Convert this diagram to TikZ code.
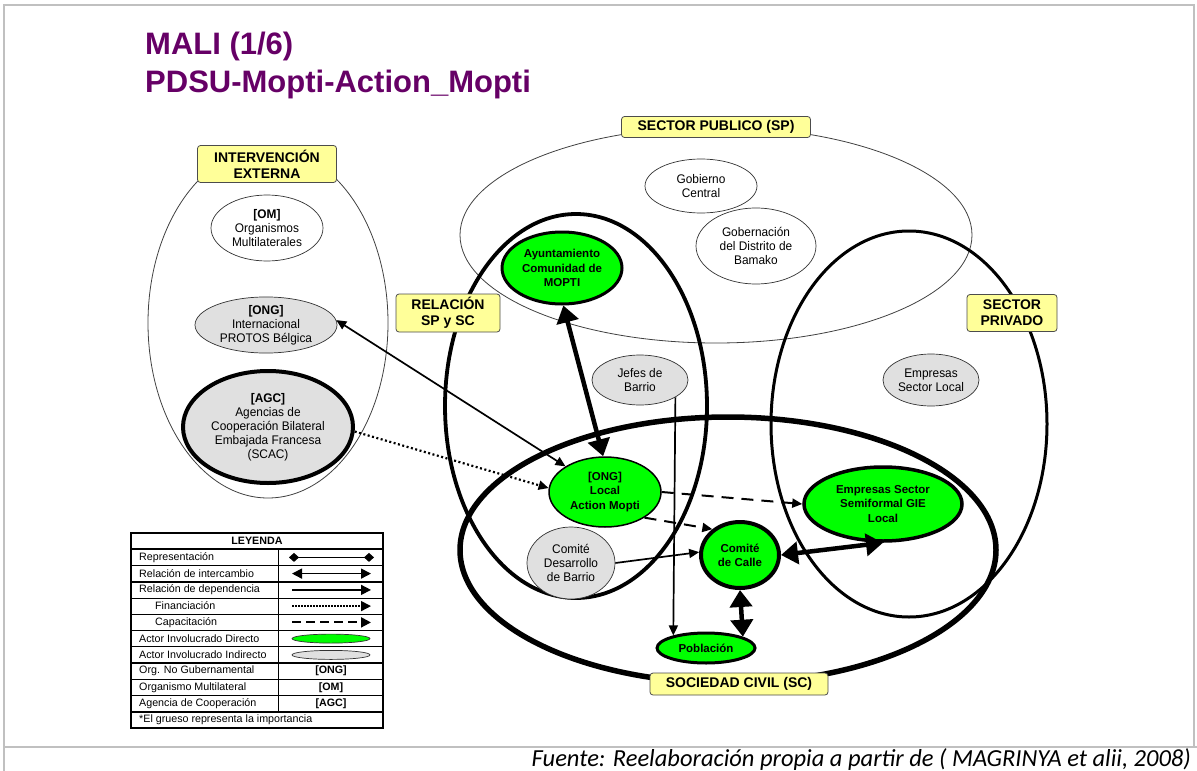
\documentclass[tikz,border=0pt]{standalone}
\usepackage{fontspec}
\setmainfont{Liberation Sans}
\newfontfamily\condfont[FakeStretch=0.95]{Liberation Sans}
\newfontfamily\carlito{Carlito}
\usetikzlibrary{shapes.geometric,arrows.meta}
\definecolor{gfill}{RGB}{0,255,0}
\definecolor{grfill}{RGB}{224,224,224}
\definecolor{yfill}{RGB}{255,255,153}
\definecolor{ttl}{RGB}{102,0,102}
\definecolor{framecol}{RGB}{192,192,192}
\begin{document}
\begin{tikzpicture}[x=1pt,y=-1pt,
  framelin/.style={draw=framecol,line width=1.6pt},
  cont/.style={ellipse,draw=black,inner sep=0pt},
  thincont/.style={cont,draw=black!75,line width=0.8pt},
  ell/.style={ellipse,inner sep=0pt,align=center,font=\condfont\fontsize{12.5}{14}\selectfont},
  whiteell/.style={ell,draw=black!80,line width=0.7pt,fill=white},
  greyell/.style={ell,draw=black!80,line width=0.7pt,fill=grfill},
  greenell/.style={ell,draw=black,fill=gfill,font=\bfseries\fontsize{11.5}{14.3}\selectfont},
  lab/.style={draw=black!70,fill=yfill,rounded corners=3pt,line width=0.8pt,inner sep=0pt,align=center,font=\bfseries\fontsize{14}{16}\selectfont},
  thinarr/.style={line width=1.7pt,-{Triangle[length=10pt,width=9pt]}},
  thinboth/.style={line width=1.7pt,{Triangle[length=10pt,width=9pt]}-{Triangle[length=10pt,width=9pt]}},
  dotarr/.style={line width=2.2pt,dash pattern=on 2pt off 2.5pt,-{Triangle[length=10pt,width=9pt]}},
  dasharr/.style={line width=2pt,dash pattern=on 12pt off 8pt,-{Triangle[length=10pt,width=9pt]}},
  thickboth/.style={line width=4.5pt,{Triangle[length=17pt,width=22pt]}-{Triangle[length=17pt,width=22pt]}},
  legtxt/.style={anchor=west,inner sep=0pt,font=\fontsize{10.7}{12}\selectfont},
  legsym/.style={inner sep=0pt,font=\bfseries\fontsize{10.7}{12}\selectfont},
]
\useasboundingbox (0,0) rectangle (1197,771);
% frame
\draw[framelin] (4,771) -- (4,5) -- (1194,5) -- (1194,747);
\draw[framelin] (4,747) -- (1197,747);
% title
\node[anchor=base west,inner sep=0pt,text=ttl,font=\bfseries\fontsize{31}{36}\selectfont] (t1) at (145,54) {MALI (1/6)};
\node[anchor=base west,inner sep=0pt,text=ttl,font=\bfseries\fontsize{31}{36}\selectfont] (t2) at (145,92) {PDSU-Mopti-Action\_Mopti};
% containers
\node[thincont,minimum width=240pt,minimum height=350pt] (ie) at (268,323) {};
\node[thincont,minimum width=512pt,minimum height=216pt] (sp) at (716,235) {};
\node[cont,line width=3.8pt,minimum width=262pt,minimum height=384pt] (rel) at (576,406) {};
\node[cont,line width=3pt,minimum width=276pt,minimum height=386pt] (spriv) at (909,424) {};
\node[cont,line width=5.5pt,minimum width=536pt,minimum height=266pt] (sc) at (728,550) {};
% actors
\node[whiteell,minimum width=112pt,minimum height=66pt] (om) at (267,228) {\textbf{[OM]}\\Organismos\\Multilaterales};
\node[greyell,minimum width=142pt,minimum height=56pt] (protos) at (266,325) {\textbf{[ONG]}\\Internacional\\PROTOS Bélgica};
\node[greyell,draw=black,line width=4pt,minimum width=170pt,minimum height=112pt] (agc) at (268,427) {\textbf{[AGC]}\\Agencias de\\Cooperación Bilateral\\Embajada Francesa\\(SCAC)};
\node[whiteell,minimum width=112pt,minimum height=54pt] (gob) at (701,186) {Gobierno\\Central};
\node[whiteell,minimum width=120pt,minimum height=76pt] (gobdist) at (756,246) {Gobernación\\del Distrito de\\Bamako};
\node[greenell,line width=3pt,minimum width=120pt,minimum height=72pt] (ayunt) at (562,268) {Ayuntamiento\\Comunidad de\\MOPTI};
\node[greyell,minimum width=96pt,minimum height=50pt] (jefes) at (640,380) {Jefes de\\Barrio};
\node[greyell,minimum width=96pt,minimum height=52pt] (emploc) at (931,380) {Empresas\\Sector Local};
\node[greenell,line width=1.5pt,minimum width=112pt,minimum height=70pt] (onglocal) at (605,492) {[ONG]\\Local\\Action Mopti};
\node[greyell,minimum width=88pt,minimum height=72pt] (cdb) at (571,563) {Comité\\Desarrollo\\de Barrio};
\node[greenell,line width=4pt,minimum width=78pt,minimum height=66pt] (calle) at (740,555) {Comité\\de Calle};
\node[greenell,line width=3.5pt,minimum width=158pt,minimum height=74pt] (semi) at (883,504) {Empresas Sector\\Semiformal GIE\\Local};
\node[greenell,line width=3pt,minimum width=98pt,minimum height=30pt] (pob) at (706,648) {Población};
% connectors
\draw[thinboth] (onglocal.147) -- (protos.4);
\draw[dotarr] (agc.-3) -- (onglocal.176);
\draw[thickboth] (ayunt.-88) -- (onglocal.93);
\draw[dasharr] (onglocal.east) -- (semi.west);
\draw[dasharr] (onglocal.-33) -- (calle.137);
\draw[thinarr] (cdb.east) -- (calle.176);
\draw[thinarr] (jefes.-26) -- (pob.159);
\draw[thickboth] (calle.east) -- (semi.south);
\draw[thickboth] (calle.south) -- (pob.17.6);
% labels
\node[lab,minimum width=139pt,minimum height=37pt] (lie) at (267,164) {INTERVENCIÓN\\EXTERNA};
\node[lab,minimum width=189pt,minimum height=21pt] (lsp) at (716,127) {SECTOR PUBLICO (SP)};
\node[lab,minimum width=104pt,minimum height=38pt] (lrel) at (448,313) {RELACIÓN\\SP y SC};
\node[lab,minimum width=90pt,minimum height=37pt] (lspriv) at (1012,313) {SECTOR\\PRIVADO};
\node[lab,minimum width=178pt,minimum height=22pt] (lsc) at (739,684) {SOCIEDAD CIVIL (SC)};
% legend table
\fill[white] (131,533) rectangle (383,728);
\foreach \i in {1,...,11}{\draw[line width=0.8pt] (131,533+16.25*\i) -- (383,533+16.25*\i);}
\foreach \i in {1,2,3,6,8,11}{\draw[line width=1.8pt] (131,533+16.25*\i) -- (383,533+16.25*\i);}
\draw[line width=0.8pt] (278,549.25) -- (278,711.75);
\draw[line width=1.8pt] (131,533) rectangle (383,728);
\node[legsym] (lg0) at (257,541.1) {LEYENDA};
\node[legtxt] (lg1) at (139,557.4) {Representación};
\node[legtxt] (lg2) at (139,573.6) {Relación de intercambio};
\node[legtxt] (lg3) at (139,589.9) {Relación de dependencia};
\node[legtxt] (lg4) at (155,606.1) {Financiación};
\node[legtxt] (lg5) at (155,622.4) {Capacitación};
\node[legtxt] (lg6) at (139,638.6) {Actor Involucrado Directo};
\node[legtxt] (lg7) at (139,654.9) {Actor Involucrado Indirecto};
\node[legtxt] (lg8) at (139,671.1) {Org. No Gubernamental};
\node[legtxt] (lg9) at (139,687.4) {Organismo Multilateral};
\node[legtxt] (lg10) at (139,703.6) {Agencia de Cooperación};
\node[legtxt] (lg11) at (139,719.9) {*El grueso representa la importancia};
\coordinate (a1) at (289,557.4); \coordinate (b1) at (374,557.4);
\coordinate (a2) at (292,573.6); \coordinate (b2) at (371,573.6);
\coordinate (a3) at (292,589.9); \coordinate (b3) at (371,589.9);
\coordinate (a4) at (292,606.1); \coordinate (b4) at (371,606.1);
\coordinate (a5) at (292,622.4); \coordinate (b5) at (371,622.4);
\draw[line width=1.2pt,{Diamond[length=10pt,width=9pt]}-{Diamond[length=10pt,width=9pt]}] (a1) -- (b1);
\draw[line width=1.5pt,{Triangle[length=10pt,width=10pt]}-{Triangle[length=10pt,width=10pt]}] (a2) -- (b2);
\draw[line width=1.5pt,-{Triangle[length=10pt,width=10pt]}] (a3) -- (b3);
\draw[line width=1.5pt,dash pattern=on 1.5pt off 1.5pt,-{Triangle[length=10pt,width=10pt]}] (a4) -- (b4);
\draw[line width=2pt,dash pattern=on 9pt off 5pt,-{Triangle[length=10pt,width=10pt]}] (a5) -- (b5);
\node[ellipse,draw=black!80,fill=gfill,line width=0.7pt,minimum width=78pt,minimum height=9pt,inner sep=0pt] (le6) at (331,638.6) {};
\node[ellipse,draw=black!80,fill=grfill,line width=0.7pt,minimum width=78pt,minimum height=9pt,inner sep=0pt] (le7) at (331,654.9) {};
\node[legsym] (ls8) at (331,671.1) {[ONG]};
\node[legsym] (ls9) at (331,687.4) {[OM]};
\node[legsym] (ls10) at (331,703.6) {[AGC]};
% source
\node[anchor=base east,inner sep=0pt,font=\carlito\itshape\fontsize{24.5}{28}\selectfont] (fuente) at (1191,766) {Fuente: Reelaboración propia a partir de ( MAGRINYA et alii, 2008)};
\end{tikzpicture}
\end{document}
